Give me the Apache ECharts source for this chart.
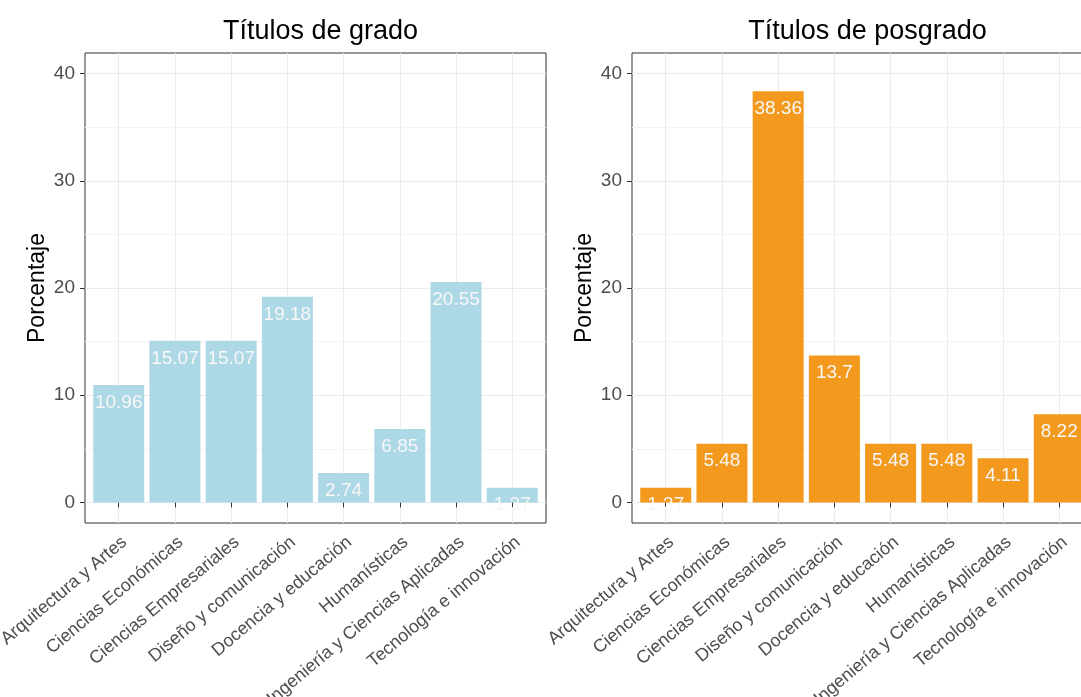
<!DOCTYPE html>
<html>
<head>
<meta charset="utf-8">
<script src="https://cdn.jsdelivr.net/npm/echarts@6/dist/echarts.min.js"></script>
<style>
  html, body { margin: 0; padding: 0; background: #fff; }
  #view { width: 1081px; height: 697px; }
</style>
</head>
<body>
<div id="view"></div>
<script>
var categorias = [
    'Arquitectura y Artes',
    'Ciencias Económicas',
    'Ciencias Empresariales',
    'Diseño y comunicación',
    'Docencia y educación',
    'Humanísticas',
    'Ingeniería y Ciencias Aplicadas',
    'Tecnología e innovación'
];
var grado = [10.96, 15.07, 15.07, 19.18, 2.74, 6.85, 20.55, 1.37];
var posgrado = [1.37, 5.48, 38.36, 13.7, 5.48, 5.48, 4.11, 8.22];
var yTicks = [0, 10, 20, 30, 40];
var yMinor = [5, 15, 25, 35];
var titulos = ['Títulos de grado', 'Títulos de posgrado'];

var myChart = echarts.init(document.getElementById('view'));

var font = 'Liberation Sans, Arial, sans-serif';
var posiciones = [1, 2, 3, 4, 5, 6, 7, 8];
// the right panel runs past the edge of the picture, as in the original
var panels = [
    { left: 85, right: 535, color: '#add8e6', data: grado },
    { left: 632, right: -12, color: '#f39a1e', data: posgrado }
];

var grid = [], xAxis = [], yAxis = [], series = [], title = [];

panels.forEach(function (p, i) {
    grid.push({
        left: p.left, right: p.right, top: 53, bottom: 174,
        outerBoundsMode: 'none',
        show: true, borderColor: '#333333', borderWidth: 1,
        backgroundColor: '#fff'
    });
    title.push({
        text: titulos[i],
        left: p.left + 230.5,
        top: 13,
        textAlign: 'center',
        textStyle: { fontFamily: font, fontSize: 27, fontWeight: 'normal', color: '#000' }
    });
    xAxis.push({
        type: 'value', gridIndex: i, min: 0.4, max: 8.6,
        axisLine: { show: false },
        axisTick: { show: true, length: 5, customValues: posiciones, lineStyle: { color: '#333333', width: 1 } },
        axisLabel: {
            customValues: posiciones,
            rotate: 40, margin: 10,
            align: 'right', verticalAlign: 'top',
            fontFamily: font, fontSize: 18, color: '#4d4d4d',
            formatter: function (v) { return categorias[Math.round(v) - 1]; }
        },
        splitLine: { show: true, lineStyle: { color: '#ebebeb', width: 1 } }
    });
    yAxis.push({
        type: 'value', gridIndex: i, min: -1.92, max: 41.92,
        name: 'Porcentaje', nameLocation: 'middle', nameGap: 36, nameRotate: 90,
        nameTextStyle: { fontFamily: font, fontSize: 23, color: '#000' },
        axisLine: { show: false },
        axisTick: { show: true, length: 5, customValues: yTicks, lineStyle: { color: '#333333', width: 1 } },
        axisLabel: { customValues: yTicks, margin: 10, fontFamily: font, fontSize: 19, color: '#4d4d4d' },
        splitLine: { show: true, lineStyle: { color: '#ebebeb', width: 1 } }
    });
    yAxis.push({
        type: 'value', gridIndex: i, min: -1.92, max: 41.92, position: 'right',
        axisLine: { show: false },
        axisTick: { show: false, customValues: yMinor },
        axisLabel: { show: false, customValues: yMinor },
        splitLine: { show: true, lineStyle: { color: '#f4f4f4', width: 1 } }
    });
    series.push({
        type: 'bar',
        xAxisIndex: i,
        yAxisIndex: i * 2,
        barWidth: 51,
        itemStyle: { color: p.color },
        label: {
            show: true, position: 'insideTop', distance: 8,
            fontFamily: font, fontSize: 19, color: '#f7f7f7',
            formatter: function (d) { return d.value[1]; }
        },
        data: p.data.map(function (v, k) { return [posiciones[k], v]; })
    });
});

var option = {
    animation: false,
    title: title,
    grid: grid,
    xAxis: xAxis,
    yAxis: yAxis,
    series: series
};

myChart.setOption(option);
</script>
</body>
</html>
